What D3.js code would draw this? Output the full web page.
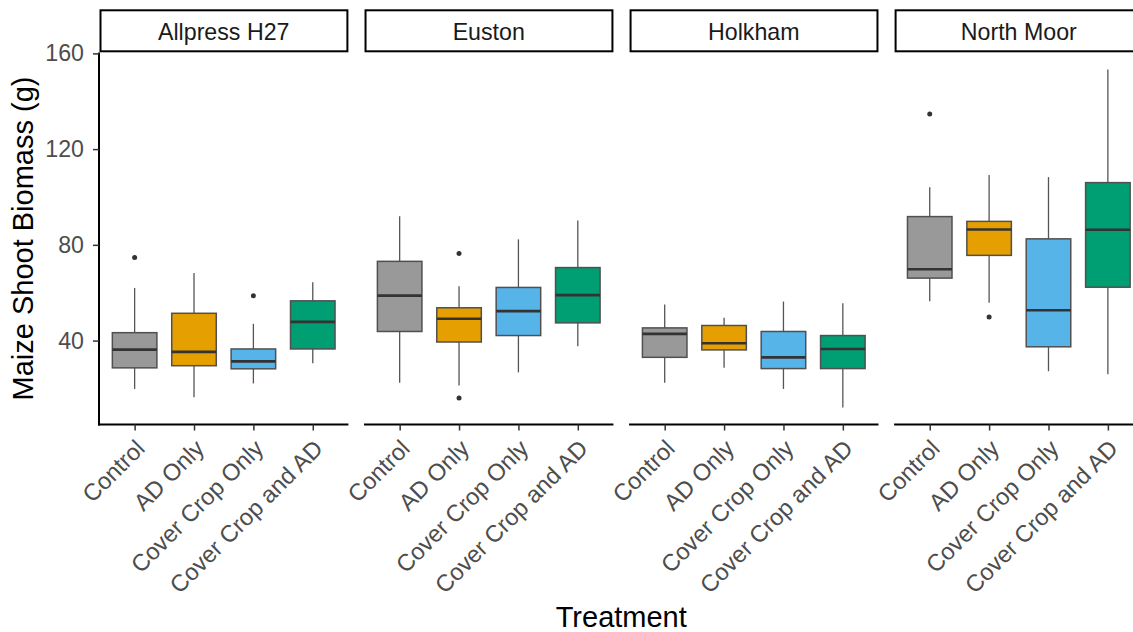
<!DOCTYPE html>
<html>
<head>
<meta charset="utf-8">
<script src="https://cdn.jsdelivr.net/npm/d3@7"></script>
<style>
  body { margin: 0; background: #fff; }
  svg { display: block; font-family: "Liberation Sans", Arial, sans-serif; }
</style>
</head>
<body>
<div id="chart"></div>
<script>
// sites (facets) and treatments (x categories)
const sites = ["Allpress H27", "Euston", "Holkham", "North Moor"];
const treatments = ["Control", "AD Only", "Cover Crop Only", "Cover Crop and AD"];
const fills = ["#999999", "#E69F00", "#56B4E9", "#009E73"];

// box stats, one row per site, one column per treatment
const whiskerLow  = [[19.8, 16.3, 22.1, 30.5], [22.4, 21.2, 26.7, 37.6], [22.4, 28.6, 19.8, 12.0], [56.4, 55.8, 27.2, 25.9]];
const q1          = [[28.6, 29.5, 28.2, 36.5], [43.8, 39.4, 42.1, 47.4], [33.0, 36.1, 28.3, 28.3], [66.1, 75.6, 37.4, 62.3]];
const median      = [[36.2, 35.3, 31.3, 47.8], [58.8, 49.1, 52.3, 59.0], [42.8, 38.9, 33.0, 36.5], [69.8, 86.4, 52.7, 86.3]];
const q3          = [[43.3, 51.4, 36.5, 56.6], [73.1, 53.7, 62.2, 70.5], [45.3, 46.3, 43.8, 42.1], [91.8, 89.8, 82.5, 106.0]];
const whiskerHigh = [[62.0, 68.2, 47.0, 64.4], [91.9, 62.7, 82.3, 90.2], [55.1, 49.5, 56.3, 55.6], [104.1, 109.2, 108.3, 153.3]];

// outliers: [site, treatment, value]
const outliers = [
  ["Allpress H27", "Control", 74.7],
  ["Allpress H27", "Cover Crop Only", 58.7],
  ["Euston", "AD Only", 76.4],
  ["Euston", "AD Only", 16.0],
  ["North Moor", "Control", 134.7],
  ["North Moor", "AD Only", 49.8]
];

const yTicks = [40, 80, 120, 160];

const W = 1133, H = 632;
const panelTop = 52.5, panelBottom = 424.5;
const tickFont = 23.2, titleFont = 29;
const textGrey = "#4D4D4D";

const svg = d3.select("#chart").append("svg")
    .attr("width", W)
    .attr("height", H);

svg.append("rect").attr("width", W).attr("height", H).attr("fill", "#fff");

// build row records
let boxes = [];
sites.forEach((s, i) => {
    treatments.forEach((t, j) => {
        boxes.push({site: s, treatment: t, color: fills[j],
            lo: whiskerLow[i][j], q1: q1[i][j], med: median[i][j], q3: q3[i][j], hi: whiskerHigh[i][j]});
    });
});

// y range from data with ggplot-style 5% expansion
let allVals = boxes.flatMap(d => [d.lo, d.hi]).concat(outliers.map(d => d[2]));
let ext = d3.extent(allVals);
let pad = (ext[1] - ext[0]) * 0.05;
const y = d3.scaleLinear().domain([ext[0] - pad, ext[1] + pad]).range([panelBottom, panelTop]);

const facet = d3.scaleBand().domain(sites).range([99, 1143.5]).paddingInner(0.059);
const bw = facet.bandwidth();

// y axis (only on first panel)
let yAxis = svg.append("g")
    .attr("transform", `translate(${facet(sites[0])},0)`)
    .call(d3.axisLeft(y).tickValues(yTicks).tickSize(6).tickPadding(9).tickSizeOuter(0));
yAxis.select(".domain").attr("stroke", "#000").attr("stroke-width", 2)
    .attr("d", `M0,${panelTop}V${panelBottom + 1}`);
yAxis.selectAll(".tick line").attr("stroke", "#333").attr("stroke-width", 1.5);
yAxis.selectAll(".tick text").attr("fill", textGrey).style("font-size", tickFont + "px")
    .attr("font-family", null);

sites.forEach(site => {
    let bx = facet(site);
    let x = d3.scalePoint().domain(treatments).range([bx, bx + bw]).padding(0.6);
    let boxW = x.step() * 0.75;
    let g = svg.append("g");

    // strip
    g.append("rect")
        .attr("x", bx + 1.5).attr("y", 10.3)
        .attr("width", bw - 2.5).attr("height", 41)
        .attr("fill", "#fff").attr("stroke", "#000").attr("stroke-width", 2);
    g.append("text")
        .attr("x", bx + bw / 2).attr("y", 40)
        .attr("text-anchor", "middle")
        .attr("fill", "#1A1A1A")
        .style("font-size", tickFont + "px")
        .text(site);

    // x axis
    let xAxis = g.append("g")
        .attr("transform", `translate(0,${panelBottom})`)
        .call(d3.axisBottom(x).tickSize(6).tickSizeOuter(0));
    xAxis.select(".domain").attr("stroke", "#000").attr("stroke-width", 2)
        .attr("d", `M${bx - (site === sites[0] ? 1 : 0)},0H${bx + bw}`);
    xAxis.selectAll(".tick line").attr("stroke", "#333").attr("stroke-width", 1.5);
    xAxis.selectAll(".tick text")
        .attr("fill", textGrey)
        .attr("font-family", null)
        .style("font-size", "23.6px")
        .attr("text-anchor", "end")
        .attr("x", 0).attr("y", 0).attr("dy", "0.72em")
        .attr("transform", "translate(-1,13.5) rotate(-45)");

    let data = boxes.filter(d => d.site === site);

    // whiskers
    g.selectAll("line.whisk-lo").data(data).join("line")
        .attr("x1", d => x(d.treatment)).attr("x2", d => x(d.treatment))
        .attr("y1", d => y(d.lo)).attr("y2", d => y(d.q1))
        .attr("stroke", "#555").attr("stroke-width", 1.3);
    g.selectAll("line.whisk-hi").data(data).join("line")
        .attr("x1", d => x(d.treatment)).attr("x2", d => x(d.treatment))
        .attr("y1", d => y(d.q3)).attr("y2", d => y(d.hi))
        .attr("stroke", "#555").attr("stroke-width", 1.3);

    // boxes
    g.selectAll("rect.box").data(data).join("rect")
        .attr("x", d => x(d.treatment) - boxW / 2)
        .attr("width", boxW)
        .attr("y", d => y(d.q3))
        .attr("height", d => y(d.q1) - y(d.q3))
        .attr("fill", d => d.color)
        .attr("stroke", "#505050").attr("stroke-width", 1.5);

    // medians
    g.selectAll("line.med").data(data).join("line")
        .attr("x1", d => x(d.treatment) - boxW / 2).attr("x2", d => x(d.treatment) + boxW / 2)
        .attr("y1", d => y(d.med)).attr("y2", d => y(d.med))
        .attr("stroke", "#333").attr("stroke-width", 2.6);

    // outliers
    g.selectAll("circle").data(outliers.filter(d => d[0] === site)).join("circle")
        .attr("cx", d => x(d[1])).attr("cy", d => y(d[2]))
        .attr("r", 2.5).attr("fill", "#333");
});

// axis titles
svg.append("text")
    .attr("x", facet(sites[0]) + (1143.5 - facet(sites[0])) / 2).attr("y", 626.5)
    .attr("text-anchor", "middle")
    .style("font-size", titleFont + "px")
    .attr("fill", "#000")
    .text("Treatment");

svg.append("text")
    .attr("transform", `translate(33,${(panelTop + panelBottom) / 2}) rotate(-90)`)
    .attr("text-anchor", "middle")
    .style("font-size", titleFont + "px")
    .attr("fill", "#000")
    .text("Maize Shoot Biomass (g)");
</script>
</body>
</html>
